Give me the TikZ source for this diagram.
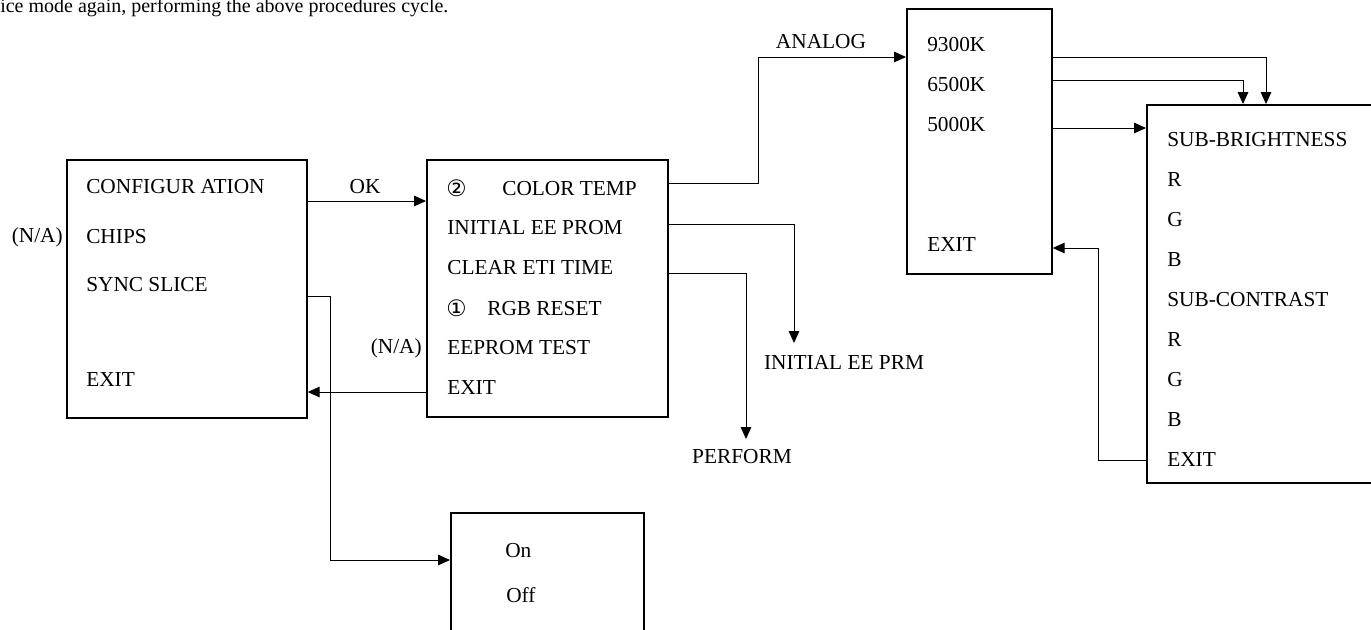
\documentclass[tikz,border=0pt]{standalone}
\usepackage{fontspec}
\setmainfont{Liberation Serif}
\newfontfamily\circfont{DejaVu Sans}
\usetikzlibrary{arrows.meta}
\tikzset{
  menubox/.style={draw,line width=1.3pt,anchor=north west,inner sep=0pt},
  item/.style={anchor=west,inner sep=0pt},
  conn/.style={line width=0.75pt},
  tip/.style={-{Triangle[length=9pt,width=8pt]}},
}
\newcommand\circnum[1]{{\circfont\fontsize{17}{19}\selectfont #1}}
\begin{document}
\begin{tikzpicture}[x=0.75pt,y=-0.75pt,font=\fontsize{16}{19}\selectfont,line join=miter]
		\useasboundingbox (0,0) rectangle (1371,629);
		\node[anchor=base west,inner sep=0pt,font=\fontsize{15}{18}\selectfont] (intro) at (0,12) {ice mode again, performing the above procedures cycle.};
		
		% menu boxes
		\node[menubox,minimum width=180pt,minimum height=193.5pt] (cfg) at (66,159) {};
		\node[menubox,minimum width=180.75pt,minimum height=192.75pt] (ctl) at (426,159) {};
		\node[menubox,minimum width=108.75pt,minimum height=198.75pt] (ct) at (906,8) {};
		\node[menubox,minimum width=175.5pt,minimum height=283.5pt] (sub) at (1146,104) {};
		\node[menubox,minimum width=144.75pt,minimum height=100pt] (sync) at (450,512) {};
		
		% configuration menu
		\node[item] (cfgA) at (86,187) {CONFIGUR ATION};
		\node[item] (cfgB) at (86,237) {CHIPS};
		\node[item] (cfgC) at (86,285) {SYNC SLICE};
		\node[item] (cfgD) at (86,380) {EXIT};
		\node[anchor=east,inner sep=0pt] (naA) at (63,237) {(N/A)};
		
		% color temp menu
		\node[item] (ctlN) at (446,188) {\circnum{②}};
		\node[item] (ctlA) at (502,189) {COLOR TEMP};
		\node[item] (ctlB) at (447,228) {INITIAL EE PROM};
		\node[item] (ctlC) at (447,268) {CLEAR ETI TIME};
		\node[item] (ctlM) at (446,308) {\circnum{①}};
		\node[item] (ctlD) at (487,309) {RGB RESET};
		\node[item] (ctlE) at (447,348) {EEPROM TEST};
		\node[item] (ctlF) at (447,388) {EXIT};
		\node[anchor=east,inner sep=0pt] (naB) at (422,348) {(N/A)};
		
		% temperature menu
		\node[item] (ctA) at (927,45) {9300K};
		\node[item] (ctB) at (927,85) {6500K};
		\node[item] (ctC) at (927,125) {5000K};
		\node[item] (ctD) at (927,245) {EXIT};
		
		% sub menu
		\node[item] (subA) at (1167,140) {SUB-BRIGHTNESS};
		\node[item] (subB) at (1167,180) {R};
		\node[item] (subC) at (1167,220) {G};
		\node[item] (subD) at (1167,260) {B};
		\node[item] (subE) at (1167,300) {SUB-CONTRAST};
		\node[item] (subF) at (1167,340) {R};
		\node[item] (subG) at (1167,380) {G};
		\node[item] (subH) at (1167,420) {B};
		\node[item] (subI) at (1167,460) {EXIT};
		
		% sync slice menu
		\node[item] (syncA) at (505,551) {On};
		\node[item] (syncB) at (506,595) {Off};
		
		% free labels
		\node[inner sep=0pt] (ok) at (365,187) {OK};
		\node[inner sep=0pt] (analog) at (821,42) {ANALOG};
		\node[inner sep=0pt] (initprm) at (844,362) {INITIAL EE PRM};
		\node[inner sep=0pt] (perform) at (742,457) {PERFORM};
		\coordinate (initTip) at (794,343);
		\coordinate (performTip) at (746,439);
		
		% connectors
		\draw[conn,tip] (cfg.east |- 0,201) -- (ctl.west |- 0,201);
		\draw[conn,tip] (ctl.west |- 0,392) -- (cfg.east |- 0,392);
		\draw[conn,tip] (cfg.east |- 0,296) -- (330,296) |- (sync.west |- 0,560);
		\draw[conn,tip] (ctl.east |- 0,183) -- (758,183) |- (ct.west |- 0,57);
		\draw[conn,tip] (ctl.east |- 0,224) -| (initTip);
		\draw[conn,tip] (ctl.east |- 0,273) -| (performTip);
		\draw[conn,tip] (ct.east |- 0,57) -| (sub.north -| 1266,0);
		\draw[conn,tip] (ct.east |- 0,80) -| (sub.north -| 1243,0);
		\draw[conn,tip] (ct.east |- 0,128) -- (sub.west |- 0,128);
		\draw[conn,tip] (sub.west |- 0,460) -- (1098,460) |- (ct.east |- 0,248);
	\end{tikzpicture}
\end{document}
